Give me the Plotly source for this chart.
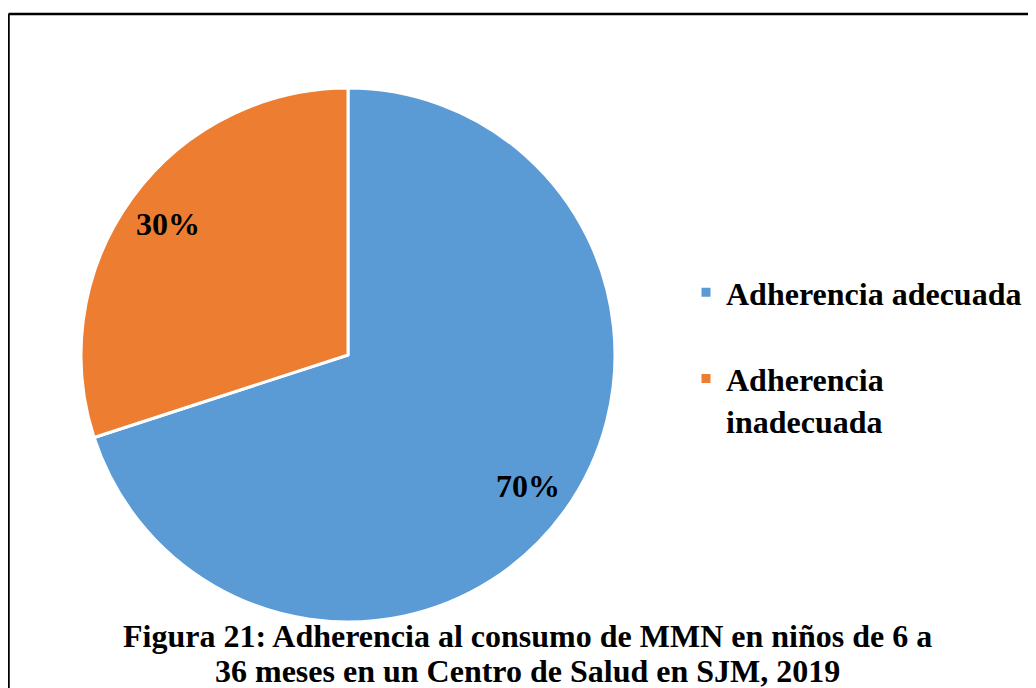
import math
import plotly.graph_objects as go

labels = ["Adherencia adecuada", "Adherencia<br>inadecuada"]
values = [70, 30]
pct_text = ["70%", "30%"]
colors = ["#5B9BD5", "#ED7D31"]
title_lines = ["Figura 21: Adherencia al consumo de MMN en niños de 6 a",
               "36 meses en un Centro de Salud en SJM, 2019"]

W, H = 1036, 688
OFF = 8  # page body margin
FONT = "Liberation Serif"

def px(x):
    return (x - OFF) / W

def py(y):
    return 1 - (y - OFF) / H

cx, cy, r = 348, 355, 267

legend_labels = ["<b>Adherencia adecuada</b><br> ", "<b>Adherencia</b><br><b>inadecuada</b>"]

fig = go.Figure()
fig.add_trace(go.Pie(
    labels=legend_labels,
    values=values,
    sort=False,
    direction="clockwise",
    rotation=0,
    marker=dict(colors=colors, line=dict(color="white", width=3)),
    textinfo="none",
    hoverinfo="percent",
    domain=dict(x=[px(cx - r), px(cx + r)], y=[py(cy + r), py(cy - r)]),
))

annotations = []
total = sum(values)
start = 0.0
for v, t in zip(values, pct_text):
    frac = v / total
    mid = start + frac / 2
    ang = 2 * math.pi * mid  # clockwise from top
    rr = 0.835 * r
    x = cx + rr * math.sin(ang)
    y = cy - rr * math.cos(ang)
    annotations.append(dict(x=px(x), y=py(y), xref="paper", yref="paper",
                            xanchor="center", yanchor="middle",
                            text="<b>%s</b>" % t, showarrow=False,
                            font=dict(family=FONT, size=32, color="black")))
    start += frac

for line, yy in zip(title_lines, [636, 671]):
    annotations.append(dict(
        x=px(527), y=py(yy), xref="paper", yref="paper",
        text="<b>%s</b>" % line, showarrow=False,
        font=dict(family=FONT, size=32, color="black"),
        xanchor="center", yanchor="middle"))

fig.update_layout(
    width=W, height=H,
    margin=dict(l=0, r=0, t=0, b=0),
    paper_bgcolor="white",
    plot_bgcolor="white",
    annotations=annotations,
    showlegend=True,
    legend=dict(x=px(686), y=py(265), xanchor="left", yanchor="top",
                font=dict(family=FONT, size=32, color="black"),
                valign="top", itemwidth=30,
                bgcolor="rgba(0,0,0,0)"),
    shapes=[
        dict(type="line", xref="paper", yref="paper",
             x0=px(8.5), y0=py(14), x1=px(8.5), y1=-0.1,
             line=dict(color="black", width=2.5)),
        dict(type="line", xref="paper", yref="paper",
             x0=px(8.5), y0=py(14), x1=1.1, y1=py(14),
             line=dict(color="black", width=2.5)),
    ],
)

fig.write_html("out.html")
